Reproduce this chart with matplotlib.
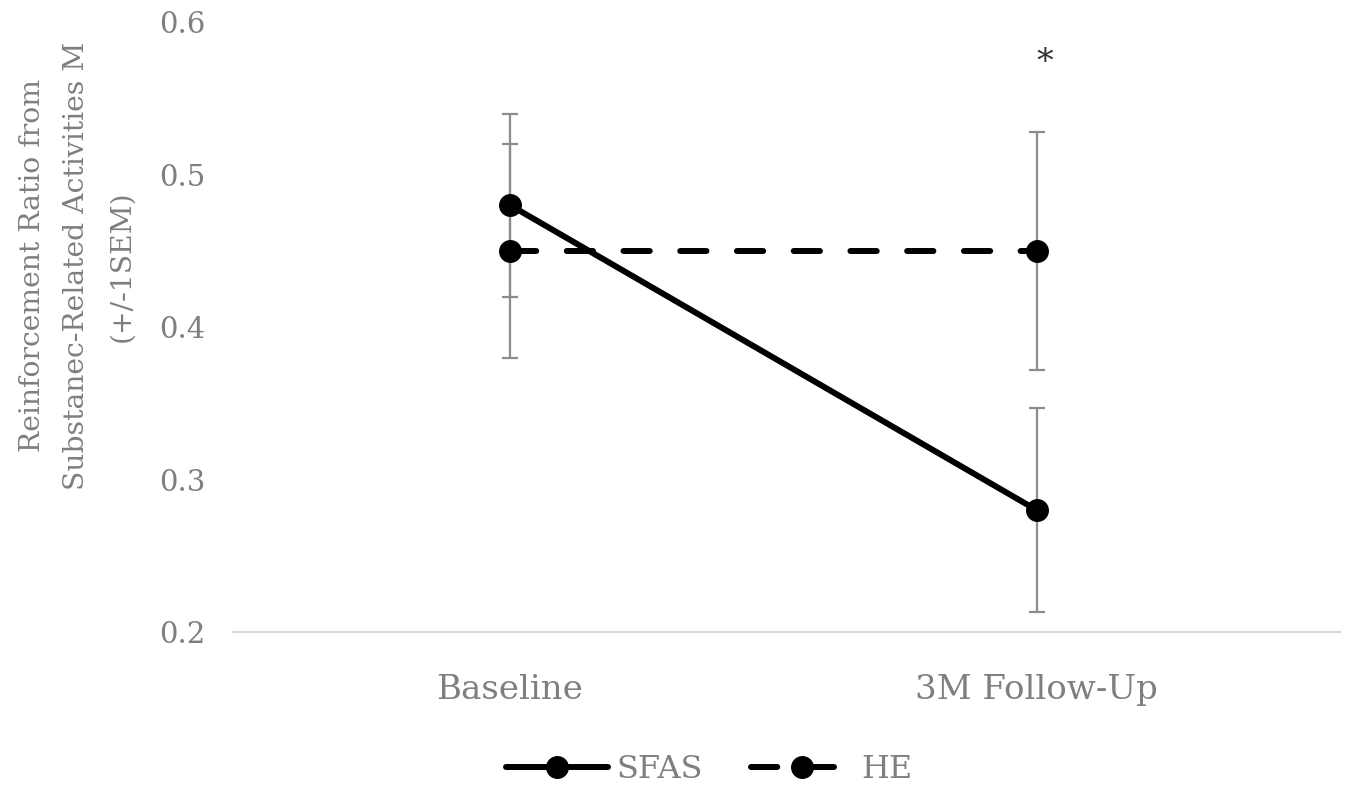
import matplotlib.pyplot as plt
import numpy as np

# data
timepoints = ["Baseline", "3M Follow-Up"]
sfas_mean = [0.48, 0.28]
sfas_sem = [0.06, 0.067]
he_mean = [0.45, 0.45]
he_sem = [0.07, 0.078]
y_ticks = [0.2, 0.3, 0.4, 0.5, 0.6]

plt.rcParams['font.family'] = ['DejaVu Serif']

fig = plt.figure(figsize=(13.49, 7.92), dpi=100)
ax = fig.add_axes([0.1727, 0.202, 0.8203, 0.770])

x = np.arange(len(timepoints))
err_color = "#8c8c8c"
text_color = "#7f7f7f"

ax.errorbar(x, sfas_mean, yerr=sfas_sem, fmt="none", ecolor=err_color,
            elinewidth=1.6, capsize=6, capthick=1.6, zorder=1)
ax.errorbar(x, he_mean, yerr=he_sem, fmt="none", ecolor=err_color,
            elinewidth=1.6, capsize=6, capthick=1.6, zorder=1)

ax.plot(x, sfas_mean, color="black", lw=4.3, marker="o", ms=15.5,
        label="SFAS", zorder=3, solid_capstyle="round")
ax.plot(x, he_mean, color="black", lw=4.3, marker="o", ms=15.5,
        label="HE", zorder=3, dashes=(4.4, 5.1), dash_capstyle="round")

ax.text(1.015, 0.573, "*", ha="center", va="center", fontsize=24, color="#333333")

ax.set_xlim(-0.526, 1.575)
ax.set_ylim(0.2, 0.6)
ax.set_yticks(y_ticks)
ax.set_yticklabels([f"{v:.1f}" for v in y_ticks])
ax.set_xticks(x)
ax.set_xticklabels(timepoints)
ax.tick_params(length=0, colors=text_color)
ax.tick_params(axis="x", labelsize=24.5, pad=30)
ax.tick_params(axis="y", labelsize=21, pad=20)

for s in ["top", "right", "left"]:
    ax.spines[s].set_visible(False)
ax.spines["bottom"].set_color("#d9d9d9")
ax.spines["bottom"].set_linewidth(1.5)

fig.text(77 / 1349, 1 - 266 / 792,
         "Reinforcement Ratio from\nSubstanec-Related Activities M\n(+/-1SEM)",
         rotation=90, ha="center", va="center", multialignment="center",
         fontsize=20.3, color=text_color, linespacing=1.85)

fig.legend(loc="center", bbox_to_anchor=(709 / 1349, 1 - 770 / 792), ncol=2,
           frameon=False, fontsize=23, labelcolor=text_color,
           handlelength=3.2, handletextpad=0.25, columnspacing=1.5)

fig.savefig("out.png", dpi=100)
